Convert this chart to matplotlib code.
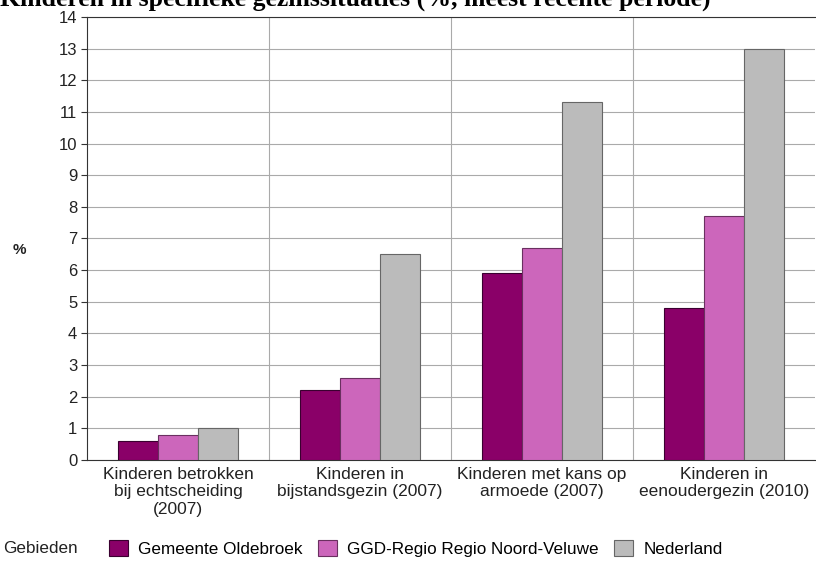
import numpy as np
import matplotlib.pyplot as plt
from matplotlib.patches import Patch

categories = [
    "Kinderen betrokken\nbij echtscheiding\n(2007)",
    "Kinderen in\nbijstandsgezin (2007)",
    "Kinderen met kans op\narmoede (2007)",
    "Kinderen in\neenoudergezin (2010)",
]
series_names = ["Gemeente Oldebroek", "GGD-Regio Regio Noord-Veluwe", "Nederland"]
oldebroek = [0.6, 2.2, 5.9, 4.8]
noord_veluwe = [0.8, 2.6, 6.7, 7.7]
nederland = [1.0, 6.5, 11.3, 13.0]

colors = ["#8a0068", "#cc66bb", "#bbbbbb"]
edges = ["#3a0030", "#6a3060", "#666666"]

plt.rcParams["font.family"] = ["Liberation Sans", "DejaVu Sans"]

fig = plt.figure(figsize=(8.16, 5.65), dpi=100)
ax = fig.add_axes([0.1066, 0.186, 0.8925, 0.784])

x = np.arange(len(categories))
w = 0.22
for i, (vals, c, ec) in enumerate(zip([oldebroek, noord_veluwe, nederland], colors, edges)):
    ax.bar(x + (i - 1) * w, vals, width=w, color=c, edgecolor=ec, linewidth=0.8, zorder=3)

ax.set_xlim(-0.5, len(categories) - 0.5)
ax.set_ylim(0, 14)
ax.set_yticks(range(0, 15))
ax.tick_params(axis="y", labelsize=12, length=4, pad=3, color="#333333", labelcolor="#222222")
ax.set_xticks(x)
ax.set_xticklabels(categories, fontsize=12.5, color="#222222", linespacing=1.2)
ax.tick_params(axis="x", length=0, pad=5)
ax.set_xticks(np.arange(0.5, len(categories) - 0.5, 1), minor=True)
ax.tick_params(axis="x", which="minor", length=0)
ax.grid(axis="y", color="#aaaaaa", linewidth=0.8, zorder=0)
ax.grid(axis="x", which="minor", color="#aaaaaa", linewidth=0.8, zorder=0)
ax.spines["right"].set_visible(False)
for s in ["left", "bottom", "top"]:
    ax.spines[s].set_color("#333333")

fig.text(0.024, 0.557, "%", fontsize=11, fontweight="bold", ha="center", va="center",
         color="#222222")

fig.text(0.0, 1.001, "Kinderen in specifieke gezinssituaties (%, meest recente periode)",
         family=["Liberation Serif", "DejaVu Serif"], fontsize=18.5, fontweight="bold",
         ha="left", va="center")

fig.text(0.004, 0.030, "Gebieden", fontsize=12.3, ha="left", va="center", color="#222222")
handles = [Patch(facecolor=c, edgecolor=ec, linewidth=0.8) for c, ec in zip(colors, edges)]
fig.legend(handles, series_names, ncol=3, frameon=False, fontsize=12.3,
           loc="center left", bbox_to_anchor=(0.134, 0.030), borderpad=0, borderaxespad=0,
           handlelength=1.1, handleheight=1.1, handletextpad=0.6, columnspacing=0.9)

fig.savefig("out.png", dpi=100)
